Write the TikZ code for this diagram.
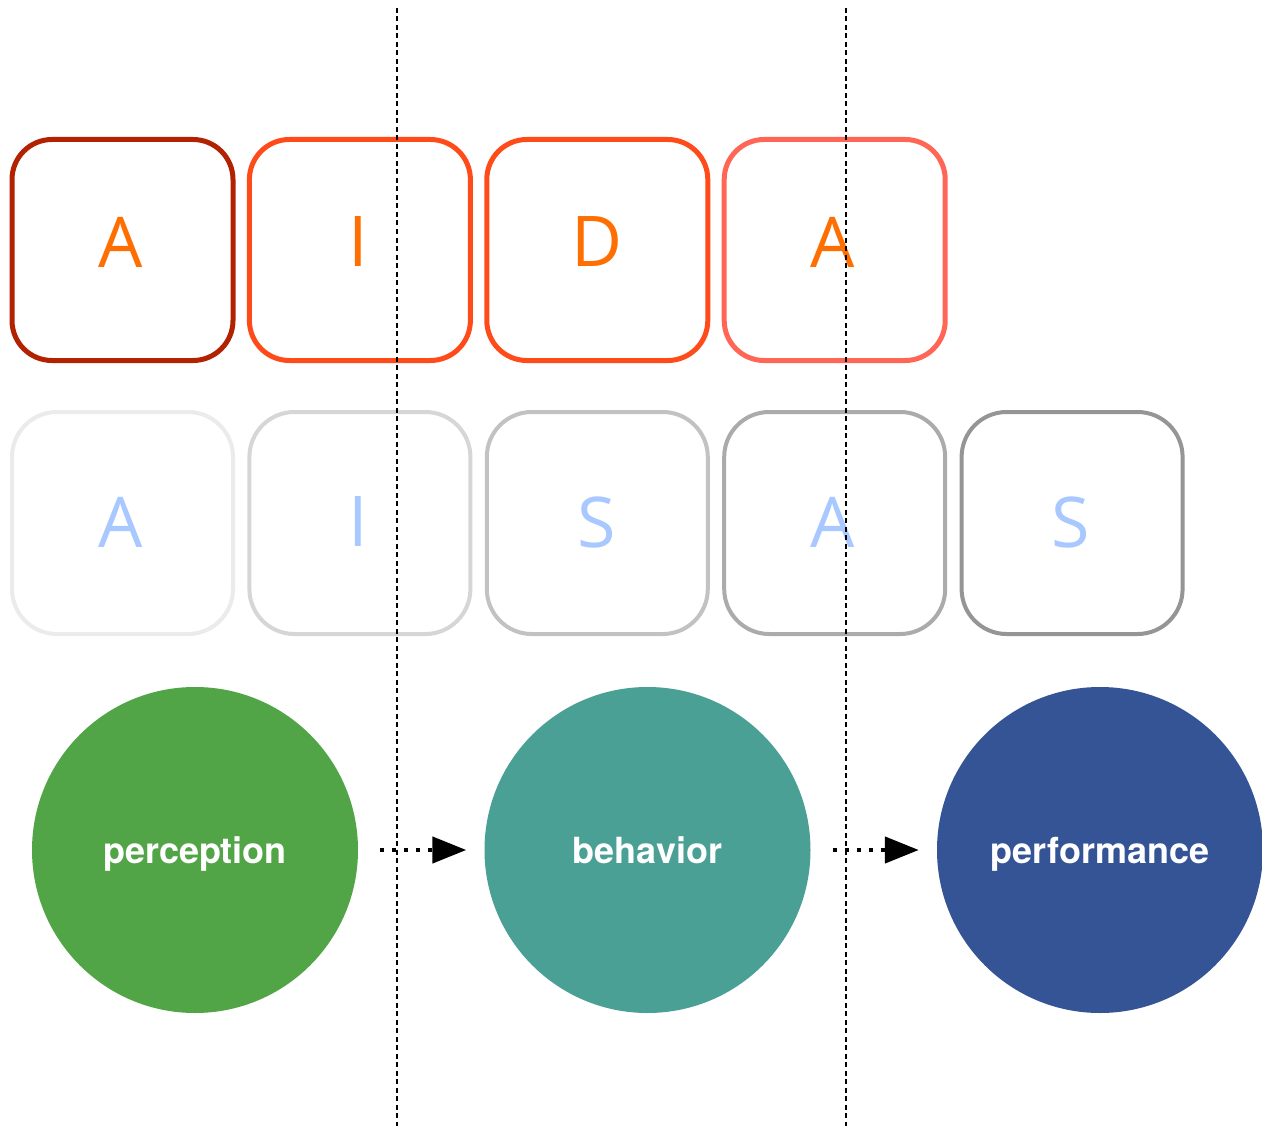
\documentclass[tikz,border=0pt]{standalone}
\usepackage{fontspec}
\setmainfont{Open Sans}
\newfontfamily\herosfont{TeX Gyre Heros}
\usetikzlibrary{arrows.meta}
\definecolor{boxA}{HTML}{B22200}
\definecolor{boxB}{HTML}{FF4A1A}
\definecolor{boxC}{HTML}{FF4A1A}
\definecolor{boxD}{HTML}{FF6655}
\definecolor{letterOrange}{HTML}{FF6E00}
\definecolor{letterBlue}{HTML}{A8C8FF}
\definecolor{grayA}{HTML}{EBEBEB}
\definecolor{grayB}{HTML}{D6D6D6}
\definecolor{grayC}{HTML}{C2C2C2}
\definecolor{grayD}{HTML}{ABABAB}
\definecolor{grayE}{HTML}{959595}
\definecolor{circGreen}{HTML}{52A546}
\definecolor{circTeal}{HTML}{4BA096}
\definecolor{circNavy}{HTML}{345496}
\tikzset{
  topbox/.style={draw=#1, line width=5pt, rounded corners=40pt, minimum width=221pt, minimum height=221pt, inner sep=0pt},
  lowbox/.style={draw=#1, line width=4pt, rounded corners=45pt, minimum width=221pt, minimum height=222pt, inner sep=0pt},
  toplet/.style={inner sep=0pt, text=letterOrange, font=\fontsize{70}{70}\selectfont},
  lowlet/.style={inner sep=0pt, text=letterBlue, font=\fontsize{70}{70}\selectfont},
  stage/.style={circle, fill=#1, minimum size=326pt, inner sep=0pt, text=white, text height=26pt, text depth=0pt, font=\herosfont\bfseries\fontsize{36}{36}\selectfont},
  divider/.style={line width=2.6pt, dash pattern=on 5pt off 3.5pt},
  flow/.style={line width=4.5pt, dash pattern=on 4pt off 8pt, -{Triangle[length=34pt,width=26pt]}, shorten <=22pt, shorten >=18pt}
}
\begin{document}
\begin{tikzpicture}[x=1pt,y=-1pt]
\useasboundingbox[fill=white] (0,0) rectangle (1262,1129);
% top row AIDA
\node[topbox=boxA] (t1) at (122.5,250) {};
\node[topbox=boxB] (t2) at (359.9,250) {};
\node[topbox=boxC] (t3) at (597.3,250) {};
\node[topbox=boxD] (t4) at (834.7,250) {};
\node[toplet] (tl1) at (121,242) {A};
\node[toplet] (tl2) at (358,242) {I};
\node[toplet] (tl3) at (597,242) {D};
\node[toplet] (tl4) at (833,242) {A};
% bottom row AISAS
\node[lowbox=grayA] (b1) at (122.5,523) {};
\node[lowbox=grayB] (b2) at (359.9,523) {};
\node[lowbox=grayC] (b3) at (597.3,523) {};
\node[lowbox=grayD] (b4) at (834.7,523) {};
\node[lowbox=grayE] (b5) at (1072.1,523) {};
\node[lowlet] (bl1) at (121,522) {A};
\node[lowlet] (bl2) at (358,522) {I};
\node[lowlet] (bl3) at (597,522) {S};
\node[lowlet] (bl4) at (833,522) {A};
\node[lowlet] (bl5) at (1071,522) {S};
% circles
\node[stage=circGreen] (c1) at (195,850) {perception};
\node[stage=circTeal] (c2) at (647.5,850) {behavior};
\node[stage=circNavy] (c3) at (1100,850) {performance};
\draw[flow] (c1) -- (c2);
\draw[flow] (c2) -- (c3);
% dividers
\coordinate (d1s) at (397,8);
\coordinate (d1e) at (397,1126);
\coordinate (d2s) at (846,8);
\coordinate (d2e) at (846,1126);
\draw[divider] (d1s) -- (d1e);
\draw[divider] (d2s) -- (d2e);
\end{tikzpicture}
\end{document}
